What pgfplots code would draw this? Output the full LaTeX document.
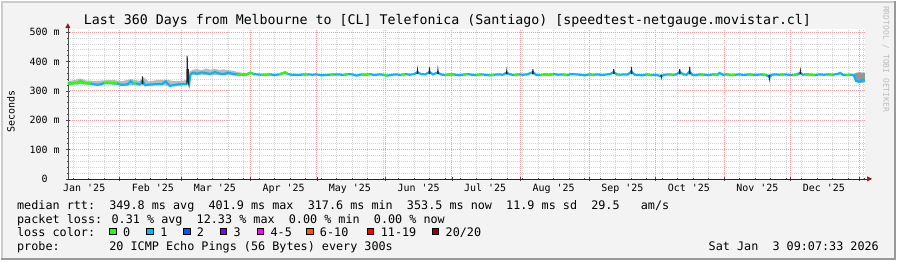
\documentclass[border=0pt]{standalone}
\usepackage{fontspec}
\setmainfont{DejaVu Sans Mono}
\usepackage{pgfplots}
\usepackage{pgfplotstable}
\pgfplotsset{compat=1.18}
\usetikzlibrary{arrows.meta}
\definecolor{bgc}{HTML}{F3F3F3}
\definecolor{shadea}{HTML}{CBCBCB}
\definecolor{shadeb}{HTML}{999999}
\definecolor{mgrid}{HTML}{F4A0A0}
\definecolor{mingrid}{HTML}{D4D4D4}
\definecolor{lossA}{HTML}{26FF00}
\definecolor{lossB}{HTML}{00B8FF}
\definecolor{lossC}{HTML}{0059FF}
\definecolor{lossD}{HTML}{7E00FF}
\definecolor{lossE}{HTML}{FF00FF}
\definecolor{lossF}{HTML}{FF5500}
\definecolor{lossG}{HTML}{FF0000}
\definecolor{lossH}{HTML}{A10000}
\definecolor{arrowc}{HTML}{8B1A1A}
\definecolor{smoke}{HTML}{BBBBBB}
\definecolor{wm}{HTML}{BDBDBD}
\newcommand\tickf{\fontsize{10}{12}\selectfont}
\newcommand\legf{\fontsize{11.8}{14}\selectfont}
\newcommand\titf{\fontsize{13.3}{16}\selectfont}

\pgfplotstableread{
d v g
7.6 326 326
9.0 324 324
10.5 327 327
12.0 326 326
13.5 333 333
14.5 327 327
16.0 326 326
18.0 325 325
19.5 322 nan
21.0 321 nan
22.5 322 nan
24.0 327 327
26.0 327 327
28.0 326 326
30.0 325 325
31.5 321 nan
33.0 321 nan
34.5 322 nan
36.0 333 nan
37.0 326 326
38.5 325 325
40.0 322 nan
41.3 334 nan
42.5 319 nan
44.0 321 nan
46.0 322 nan
48.0 323 nan
50.0 323 nan
51.8 332 nan
53.6 317 nan
55.0 319 nan
57.0 322 nan
59.0 323 nan
61.0 323 nan
61.8 330 nan
62.3 321 nan
63.0 358 nan
64.5 362 nan
66.0 358 nan
68.0 363 nan
70.0 360 nan
72.0 358 nan
74.0 364 nan
76.0 359 nan
78.0 357 nan
80.0 362 nan
82.0 358 nan
84.0 356 356
86.0 355 355
88.0 355 355
90.1 362 362
91.5 357 357
93.0 356 nan
95.0 355 355
97.0 355 355
99.0 356 356
101.0 354 nan
103.0 356 356
105.8 363 363
107.0 357 357
108.5 355 nan
110.0 355 nan
112.0 354 nan
114.0 356 356
116.0 356 356
118.0 355 nan
120.0 356 nan
122.0 353 nan
124.0 354 nan
126.0 355 355
128.0 356 356
130.0 356 nan
132.0 354 354
134.0 357 357
136.0 356 nan
138.0 352 nan
140.0 356 356
142.0 355 355
144.0 357 357
146.0 354 nan
148.0 356 nan
150.0 355 355
152.0 352 352
154.0 355 nan
156.0 356 nan
158.0 354 354
160.0 357 357
162.0 355 nan
164.0 357 nan
165.5 364 nan
167.0 357 nan
169.0 356 356
170.9 364 nan
172.5 356 nan
174.7 363 nan
176.0 356 nan
178.0 354 354
180.0 356 356
182.0 356 356
184.0 353 nan
186.0 355 355
188.0 357 357
190.0 355 nan
192.0 354 354
194.0 356 356
196.0 355 nan
198.0 353 353
200.0 355 355
202.0 356 nan
204.0 355 nan
205.8 362 nan
207.0 357 nan
209.0 354 354
211.0 356 356
213.0 355 nan
215.0 356 nan
217.6 364 nan
219.0 355 nan
221.0 354 354
223.0 356 356
225.0 355 355
227.0 357 357
229.0 355 nan
231.0 356 356
233.0 354 354
235.0 357 nan
237.0 356 nan
239.0 355 nan
241.0 353 nan
243.0 356 356
245.0 355 355
247.0 356 nan
249.0 354 nan
251.0 356 nan
252.5 357 nan
254.1 364 nan
255.5 356 356
257.0 355 355
259.0 356 nan
260.5 356 nan
262.1 366 nan
263.5 355 nan
265.0 354 nan
267.0 353 nan
269.0 356 356
271.0 354 354
273.0 355 nan
275.6 350 nan
277.0 355 nan
279.0 356 356
281.0 355 355
282.5 356 nan
283.9 365 nan
285.5 356 nan
287.0 355 nan
288.4 366 nan
289.5 355 nan
291.0 354 nan
293.0 356 356
295.0 355 355
297.0 354 nan
299.0 356 356
301.0 355 355
301.9 361 nan
303.5 355 nan
305.0 356 356
307.0 354 354
309.0 355 355
311.0 356 nan
313.0 354 nan
315.0 356 356
317.0 355 355
319.0 355 nan
321.0 356 356
323.0 354 354
324.4 347 nan
325.5 355 nan
327.0 356 nan
329.0 355 355
331.0 356 356
333.0 355 nan
335.0 354 354
337.0 356 356
338.4 362 nan
339.5 355 nan
341.0 356 356
343.0 355 355
345.0 354 354
347.0 356 nan
349.0 355 nan
351.0 356 356
353.0 355 355
355.0 357 nan
356.4 361 nan
357.5 355 nan
359.0 354 354
361.0 355 355
362.5 353 nan
363.5 334 nan
365.0 331 nan
366.5 337 nan
367.5 338 nan
}\med

\pgfplotstableread{
d v
41.1 324
41.3 349
41.5 322
nan nan
61.3 325
61.5 419
61.7 330
nan nan
62.0 375
62.2 321
nan nan
165.3 357
165.5 371
165.7 357
nan nan
170.7 357
170.9 380
171.1 357
nan nan
174.5 357
174.7 372
174.9 357
nan nan
205.6 356
205.8 368
206.0 356
nan nan
217.4 356
217.6 374
217.8 356
nan nan
253.9 357
254.1 374
254.3 357
nan nan
261.9 357
262.1 382
262.3 357
nan nan
275.4 355
275.6 346
275.8 355
nan nan
283.7 356
283.9 374
284.1 356
nan nan
288.2 356
288.4 382
288.6 356
nan nan
324.2 355
324.4 342
324.6 355
nan nan
338.2 356
338.4 368
338.6 356
}\spikes

\begin{document}
\begin{tikzpicture}[x=1pt,y=1pt]
\fill[bgc] (0,0) rectangle (897,260);
\draw[shadea, line width=2pt] (1,0) -- (1,259) -- (897,259);
\draw[shadeb, line width=2pt] (0,1) -- (896,1) -- (896,260);
\useasboundingbox (0,0) rectangle (897,260);

\begin{axis}[
  at={(67pt,81.7pt)}, anchor=south west,
  scale only axis, width=799pt, height=150pt,
  xmin=7.6, xmax=367.6, ymin=0, ymax=510,
  axis lines=left,
  axis background/.style={fill=white},
  x axis line style={draw=black!85, line width=0.6pt, -{Triangle[length=5pt,width=5pt,color=arrowc]}, shorten >=-7pt},
  y axis line style={draw=black!70, line width=0.6pt, -{Triangle[length=5pt,width=5pt,color=arrowc]}, shorten >=-6pt},
  xtick={31,59,90,120,151,181,212,243,273,304,334,365},
  xticklabels={,,,,,,,,,,,,},
  minor xtick={10,17,...,367},
  ytick={0,100,200,300,400,500},
  yticklabels={0\phantom{~m},100~m,200~m,300~m,400~m,500~m},
  minor y tick num=4,
  grid=both,
  major grid style={draw=mgrid, line width=0.8pt, dash pattern=on 1pt off 1pt},
  minor grid style={draw=mingrid, line width=0.8pt, dash pattern=on 1pt off 1pt},
  tick style={draw=black!70, line width=0.5pt},
  major tick length=4pt, minor tick length=2pt, tick align=center,
  ticklabel style={font=\tickf},
  yticklabel style={anchor=east, inner sep=0pt, xshift=-6pt},
  xticklabel style={anchor=north, inner sep=0pt, yshift=-5pt},
  extra x ticks={15,46,74,105,135,166,196,227,258,288,319,349},
  extra x tick labels={Jan \textquotesingle25,Feb \textquotesingle25,Mar \textquotesingle25,Apr \textquotesingle25,May \textquotesingle25,Jun \textquotesingle25,Jul \textquotesingle25,Aug \textquotesingle25,Sep \textquotesingle25,Oct \textquotesingle25,Nov \textquotesingle25,Dec \textquotesingle25},
  extra x tick style={grid=none, major tick length=0pt},
  unbounded coords=jump,
]
\addplot[draw=none, fill=smoke] coordinates {(7.6,333)(10,336)(13.5,342)(16,335)(20,334)(24,336)(28,337)(32,333)(36,340)(40,334)(42,345)(44,332)(48,337)(52,338)(56,333)(60,335)(61.5,338)(61.5,320)(56,315)(52,318)(48,320)(44,318)(40,319)(36,319)(32,318)(28,322)(24,323)(20,319)(16,322)(12,322)(7.6,321)} -- cycle;
\addplot[draw=none, fill=smoke] coordinates {(62.5,365)(64,372)(66,374)(68,370)(70,376)(72,372)(74,375)(76,371)(78,373)(80,370)(82,369)(84,365)(86,362)(88,360)(88,352)(84,352)(80,353)(76,354)(72,354)(68,355)(64,354)(62.5,352)} -- cycle;
\addplot[draw=none, fill=smoke!80!black] coordinates {(362.5,356)(363.5,362)(365,363)(367.5,362)(367.5,329)(365,327)(363.5,330)(362.5,350)} -- cycle;
\addplot[lossB, line width=2.2pt] table[x=d,y=v] {\med};
\addplot[lossA, line width=2.2pt] table[x=d,y=g] {\med};
\addplot[black!85, line width=1pt] table[x=d,y=v] {\spikes};
\end{axis}

\node[font=\titf, anchor=base] at (447.5,236.5) {Last 360 Days from Melbourne to [CL] Telefonica (Santiago) [speedtest-netgauge.movistar.cl]};
\node[font=\tickf, rotate=90, anchor=center] at (10,149) {Seconds};
\node[font=\fontsize{8}{9}\selectfont, text=wm, rotate=-90, anchor=west, inner sep=0pt] at (887,255) {RRDTOOL / TOBI OETIKER};

\node[font=\legf, anchor=base west, inner sep=0pt] at (16,51.5) {median rtt:~~349.8 ms avg~~401.9 ms max~~317.6 ms min~~353.5 ms now~~11.9 ms sd~~29.5~~~am/s};
\node[font=\legf, anchor=base west, inner sep=0pt] at (16,37.5) {packet loss: 0.31 \% avg~~12.33 \% max~~0.00 \% min~~0.00 \% now};
\node[font=\legf, anchor=base west, inner sep=0pt] at (16,23.5) {loss color:};
\node[font=\legf, anchor=base west, inner sep=0pt] at (16,9.5) {probe:~~~~~~~20 ICMP Echo Pings (56 Bytes) every 300s};
\node[font=\legf, anchor=base east, inner sep=0pt] at (880,9.5) {Sat Jan~~3 09:07:33 2026};

\foreach \bx/\col/\lab in {108.7/lossA/0, 146/lossB/1, 182.7/lossC/2, 219.5/lossD/3, 256.5/lossE/4-5, 306/lossF/6-10, 367/lossG/11-19, 432/lossH/20\slash 20}{
  \draw[fill=\col, draw=black, line width=0.6pt] (\bx,25.7) rectangle ++(6.6,6.6);
  \node[font=\legf, anchor=base west, inner sep=0pt] at (\bx+13.5,23.5) {\lab};
}
\end{tikzpicture}
\end{document}
